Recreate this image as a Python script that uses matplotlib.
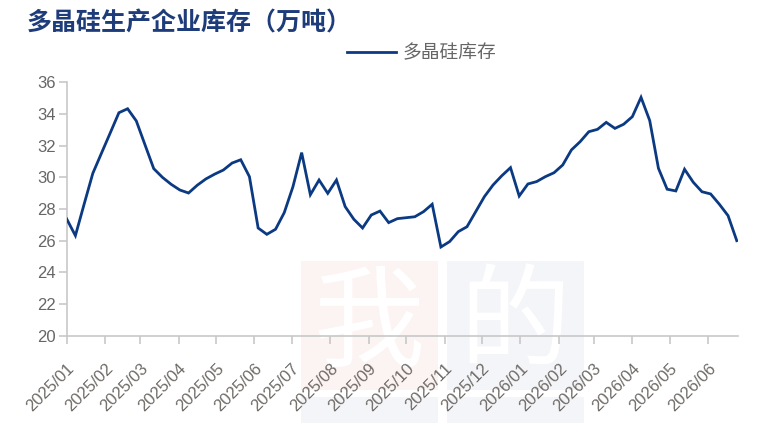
import matplotlib
matplotlib.use("Agg")
import matplotlib.pyplot as plt
from matplotlib.patches import Rectangle
import pandas as pd

plt.rcParams['font.family'] = ['Liberation Sans', 'Noto Sans CJK SC', 'DejaVu Sans']

title = "多晶硅生产企业库存（万吨）"
series_name = "多晶硅库存"
start_date = "2025-01-01"
values = [
    27.37, 26.32, 28.30, 30.25, 31.53, 32.80, 34.08, 34.33, 33.56, 32.05,
    30.55, 30.00, 29.56, 29.20, 29.01, 29.50, 29.90, 30.20, 30.46, 30.90,
    31.11, 30.04, 26.80, 26.40, 26.72, 27.77, 29.41, 31.56, 28.90, 29.83,
    28.99, 29.83, 28.15, 27.35, 26.80, 27.62, 27.87, 27.14, 27.39, 27.45,
    27.51, 27.83, 28.30, 25.60, 25.94, 26.57, 26.88, 27.83, 28.78, 29.52,
    30.10, 30.61, 28.82, 29.58, 29.73, 30.04, 30.29, 30.78, 31.73, 32.25,
    32.88, 33.03, 33.47, 33.09, 33.35, 33.83, 35.05, 33.58, 30.57, 29.25,
    29.14, 30.51, 29.69, 29.09, 28.95, 28.30, 27.58, 26.00,
]
dates = pd.date_range(start_date, periods=len(values), freq="7D")
month_ticks = pd.date_range("2025-01-01", "2026-06-01", freq="MS")
y_ticks = [20, 22, 24, 26, 28, 30, 32, 34, 36]

W, H = 777, 423
fig = plt.figure(figsize=(W / 100, H / 100), dpi=100)

# faint watermark blocks (behind everything)
def px_rect(x0, y0, x1, y1, color):
    fig.patches.append(Rectangle((x0 / W, 1 - y1 / H), (x1 - x0) / W, (y1 - y0) / H,
                                 transform=fig.transFigure, facecolor=color,
                                 edgecolor='none', zorder=-5))

px_rect(301, 261, 438, 390, "#FCF3F3")
px_rect(447, 261, 584, 390, "#F4F5F8")
px_rect(301, 397, 438, 423, "#F4F5F8")
px_rect(447, 397, 584, 423, "#F4F5F8")
fig.text(369 / W, 1 - 326 / H, "我", fontsize=80, color="white", ha="center", va="center",
         family=['Noto Sans CJK SC'], fontweight='light', zorder=-4)
fig.text(515 / W, 1 - 326 / H, "的", fontsize=80, color="white", ha="center", va="center",
         family=['Noto Sans CJK SC'], fontweight='light', zorder=-4)

ax = fig.add_axes([66.7 / W, 1 - 335.7 / H, (738 - 66.7) / W, (335.7 - 82.3) / H])
ax.set_zorder(2)
ax.set_facecolor('none')
ax.plot(dates, values, color="#0B3A82", linewidth=2.0, label=series_name, zorder=3,
        solid_joinstyle='miter')

ax.set_ylim(20, 36)
ax.set_yticks(y_ticks)
ax.set_xlim(dates[0], dates[-1] + pd.Timedelta(days=1))
ax.set_xticks(month_ticks)
ax.set_xticklabels([d.strftime("%Y/%m") for d in month_ticks], rotation=45,
                   ha='right', rotation_mode='anchor')

for s in ['top', 'right']:
    ax.spines[s].set_visible(False)
for s in ['left', 'bottom']:
    ax.spines[s].set_color("#C8C8C8")
    ax.spines[s].set_linewidth(1.2)
ax.tick_params(axis='both', colors="#C8C8C8", labelcolor="#666666", labelsize=12,
               length=6, width=1.2)
ax.tick_params(axis='x', pad=12)
ax.tick_params(axis='y', pad=2)
for lbl in ax.get_xticklabels():
    lbl.set_color("#6E6A66")

fig.text(27 / W, 1 - 23 / H, title, fontsize=18, color="#1F3C7A", fontweight='bold',
         ha='left', va='center', family=['Noto Sans CJK SC'])

fig.legend(loc='center', bbox_to_anchor=(422 / W, 1 - 53 / H), frameon=False,
           prop={'family': ['Noto Sans CJK SC'], 'size': 13.5}, handlelength=2.6,
           handletextpad=0.35, labelcolor="#666666")

fig.savefig("out.png", dpi=100)
